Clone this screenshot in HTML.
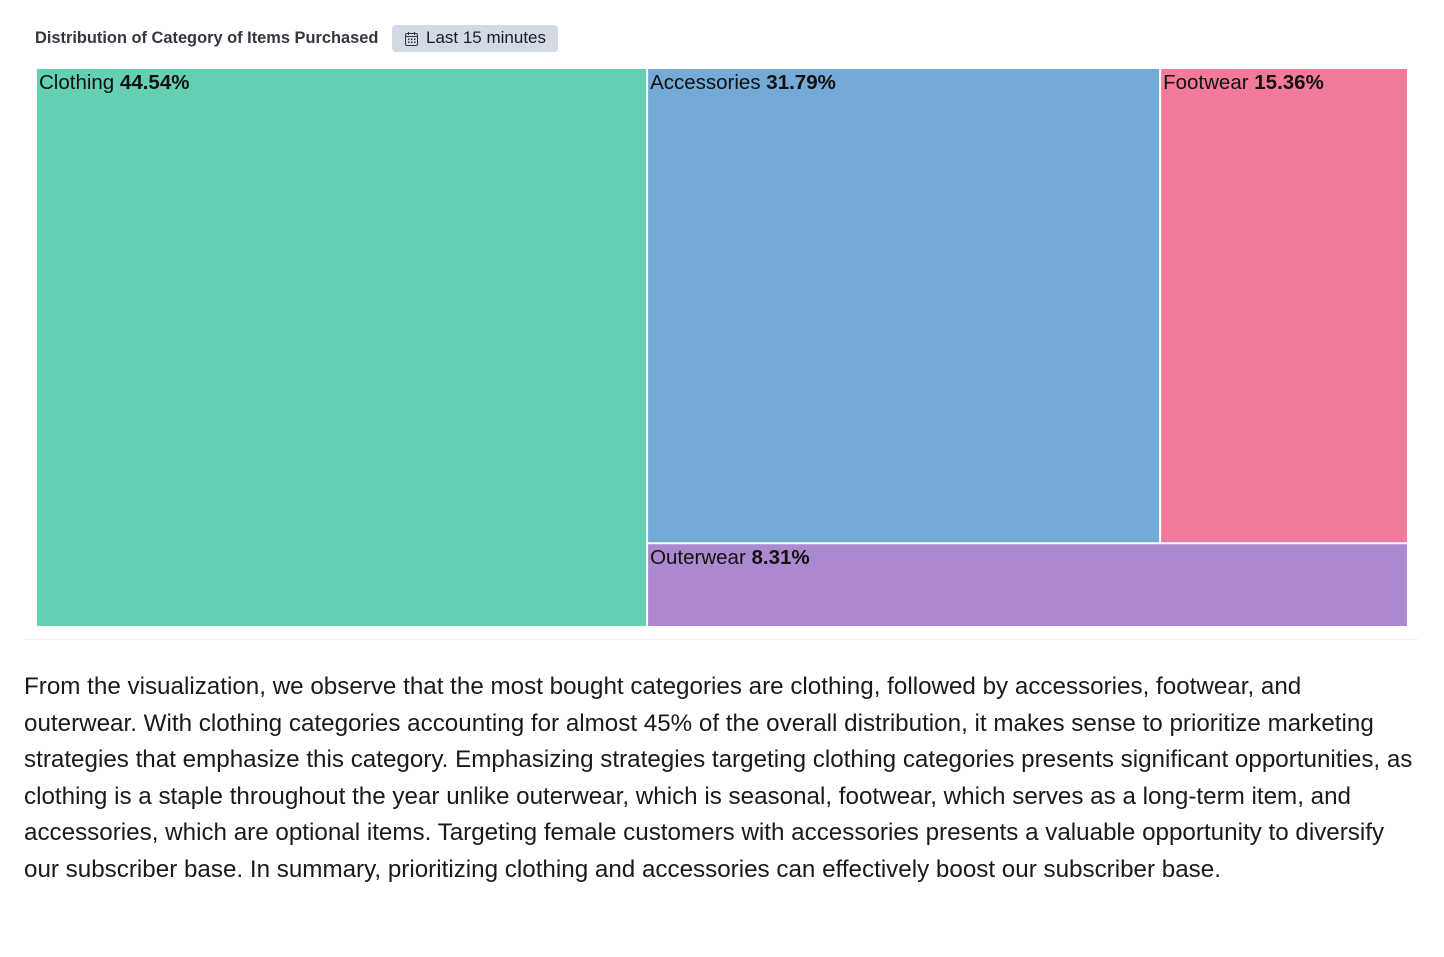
<!DOCTYPE html>
<html><head><meta charset="utf-8"><style>
body{margin:0;width:1444px;height:957px;background:#fff;font-family:"Liberation Sans",sans-serif;position:relative;overflow:hidden}
#title{position:absolute;left:35px;top:29px;font-size:16.4px;font-weight:bold;color:#343741}
#badge{position:absolute;left:392px;top:25px;width:166px;height:27px;background:#d3dae6;border-radius:4px;font-size:17px;color:#1a1c21;line-height:26px;box-sizing:border-box;padding-left:34px}
#badge svg{position:absolute;left:13px;top:7px}
#sep{position:absolute;left:24px;top:639px;width:1394px;height:1px;background:#eef0f3}
#para{position:absolute;left:24px;top:669px;font-size:24.2px;line-height:36.5px;color:#1a1a1a;white-space:nowrap}
svg text{font-family:"Liberation Sans",sans-serif}
</style></head><body>
<div id="title">Distribution of Category of Items Purchased</div>
<div id="badge"><svg width="13" height="14" viewBox="0 0 13 14"><rect x="0.5" y="1.5" width="12" height="12" rx="1.5" fill="none" stroke="#343741"/><line x1="0.5" y1="4.5" x2="12.5" y2="4.5" stroke="#343741"/><line x1="3.5" y1="0" x2="3.5" y2="3" stroke="#343741"/><line x1="9.5" y1="0" x2="9.5" y2="3" stroke="#343741"/><g fill="#343741"><rect x="3" y="6.5" width="1.5" height="1.5"/><rect x="6" y="6.5" width="1.5" height="1.5"/><rect x="9" y="6.5" width="1.5" height="1.5"/><rect x="3" y="9.5" width="1.5" height="1.5"/><rect x="6" y="9.5" width="1.5" height="1.5"/><rect x="9" y="9.5" width="1.5" height="1.5"/></g></svg>Last 15 minutes</div>
<svg id="chart" width="1444" height="640" style="position:absolute;left:0;top:0"></svg>
<div id="sep"></div>
<div id="para">From the visualization, we observe that the most bought categories are clothing, followed by accessories, footwear, and<br>outerwear. With clothing categories accounting for almost 45% of the overall distribution, it makes sense to prioritize marketing<br>strategies that emphasize this category. Emphasizing strategies targeting clothing categories presents significant opportunities, as<br>clothing is a staple throughout the year unlike outerwear, which is seasonal, footwear, which serves as a long-term item, and<br>accessories, which are optional items. Targeting female customers with accessories presents a valuable opportunity to diversify<br>our subscriber base. In summary, prioritizing clothing and accessories can effectively boost our subscriber base.</div>
<script>
const categories=["Clothing","Accessories","Footwear","Outerwear"];
const values=[44.54,31.79,15.36,8.31];
const colors=["#64cfb3","#75aad7","#f47a9c","#ac89cf"];
const X0=36,X1=1408,Y0=68,Y1=627;
const svg=document.getElementById('chart');
const NS="http://www.w3.org/2000/svg";
const total=values.reduce((a,b)=>a+b,0);
const W=X1-X0,H=Y1-Y0;
const rects=[];
const cw=W*values[0]/total;
rects.push([X0,Y0,cw,H]);
const rx=X0+cw,rw=W-cw,rest=total-values[0];
const topSum=values[1]+values[2];
const th=H*topSum/rest;
const aw=rw*values[1]/topSum;
rects.push([rx,Y0,aw,th]);
rects.push([rx+aw,Y0,rw-aw,th]);
rects.push([rx,Y0+th,rw,H-th]);
rects.forEach((r,i)=>{
  const el=document.createElementNS(NS,'rect');
  
  
  el.setAttribute('x',r[0]+1);el.setAttribute('y',r[1]+1);
  el.setAttribute('width',Math.max(0,r[2]-2));el.setAttribute('height',Math.max(0,r[3]-2));
  el.setAttribute('fill',colors[i]);
  svg.appendChild(el);
  const t=document.createElementNS(NS,'text');
  
  
  t.setAttribute('x',r[0]+3);t.setAttribute('y',r[1]+21);
  t.setAttribute('font-size','20.5');t.setAttribute('fill','#111');
  t.textContent=categories[i]+' ';
  const b=document.createElementNS(NS,'tspan');
  b.setAttribute('font-weight','bold');
  b.textContent=values[i].toFixed(2)+'%';
  t.appendChild(b);
  svg.appendChild(t);
});
</script>
</body></html>
